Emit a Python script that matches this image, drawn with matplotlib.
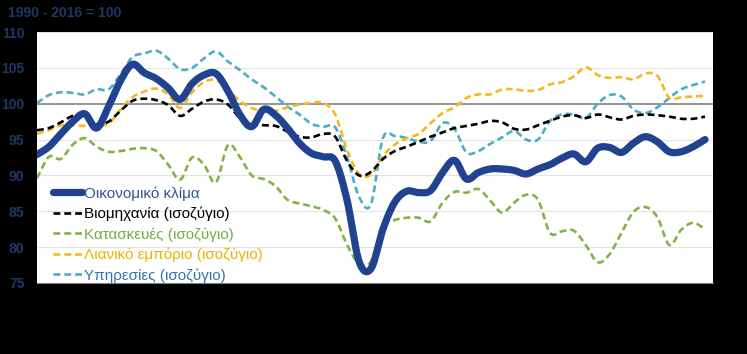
import numpy as np
import matplotlib
matplotlib.use("Agg")
import matplotlib.pyplot as plt

plt.rcParams['font.family'] = ['Liberation Sans', 'DejaVu Sans']

# ---- data (x = period index) ----
climate = [92.9, 94.0, 95.8, 97.5, 98.6, 96.6, 99.6, 103.2, 105.5, 104.3,
           103.5, 102.2, 100.6, 102.8, 104.0, 104.2, 101.8, 98.5, 96.8, 99.2,
           98.4, 96.6, 94.5, 93.1, 92.6, 92.0, 86.5, 78.0, 77.0, 82.5,
           86.3, 87.8, 87.6, 87.9, 90.4, 92.1, 89.5, 90.4, 90.9, 90.9,
           90.7, 90.2, 90.9, 91.5, 92.4, 93.0, 91.9, 93.8, 93.9, 93.2,
           94.5, 95.4, 94.7, 93.3, 93.3, 94.0, 95.0]
industry = [96.3, 96.6, 97.4, 98.3, 98.4, 97.1, 97.5, 99.0, 100.4, 100.7,
            100.5, 99.8, 98.3, 99.3, 100.3, 100.6, 99.9, 98.0, 97.2, 97.0,
            96.9, 96.1, 95.4, 95.3, 95.8, 95.4, 92.0, 90.0, 90.5, 92.3,
            93.4, 94.0, 94.7, 95.4, 96.0, 96.6, 96.9, 97.2, 97.6, 97.4,
            96.5, 96.4, 97.0, 97.6, 98.2, 98.4, 98.0, 98.5, 98.1, 97.8,
            98.3, 98.5, 98.4, 98.2, 97.9, 97.9, 98.2]
construction = [89.6, 92.6, 92.3, 94.3, 95.2, 94.0, 93.3, 93.4, 93.7, 93.8,
                93.4, 91.5, 89.4, 92.5, 91.5, 89.0, 94.2, 92.6, 90.0, 89.5,
                88.5, 86.6, 86.1, 85.7, 85.2, 84.0, 80.3, 77.7, 78.0, 83.0,
                83.8, 84.1, 84.1, 83.6, 86.2, 87.7, 87.6, 88.1, 86.5, 84.8,
                86.2, 87.3, 86.6, 82.0, 82.2, 82.3, 80.3, 77.9, 79.0, 82.0,
                84.9, 85.6, 84.2, 80.3, 82.4, 83.4, 82.5]
retail = [95.8, 96.3, 97.0, 97.0, 96.9, 97.0, 97.2, 99.2, 100.9, 101.7,
          102.1, 101.3, 99.4, 101.6, 103.0, 103.3, 102.0, 100.4, 99.4, 99.0,
          99.0, 99.5, 99.9, 100.1, 100.1, 98.5, 93.5, 90.2, 90.1, 92.7,
          94.3, 95.2, 95.8, 97.3, 98.7, 99.5, 100.8, 101.3, 101.3, 102.0,
          102.0, 101.8, 101.9, 102.7, 103.0, 103.8, 105.1, 104.0, 103.6, 103.7,
          103.4, 104.2, 103.9, 100.8, 100.9, 101.0, 101.1]
services = [100.1, 101.2, 101.6, 101.5, 101.3, 102.0, 102.0, 104.1, 106.5, 107.0,
            107.4, 106.3, 104.8, 105.0, 106.3, 107.3, 105.9, 104.7, 103.4, 102.3,
            101.0, 99.6, 98.5, 97.2, 96.8, 96.7, 92.5, 87.0, 86.0, 95.2,
            95.5, 95.2, 94.7, 94.8, 97.3, 96.5, 93.2, 93.4, 94.4, 95.3,
            96.2, 95.0, 95.0, 97.6, 98.5, 98.5, 98.0, 100.0, 101.2, 101.0,
            99.2, 98.7, 99.5, 100.8, 102.0, 102.6, 103.1]

labels = ["Οικονομικό κλίμα", "Βιομηχανία (ισοζύγιο)", "Κατασκευές (ισοζύγιο)",
          "Λιανικό εμπόριο (ισοζύγιο)", "Υπηρεσίες (ισοζύγιο)"]
title_text = "1990 - 2016 = 100"
yticks = [75, 80, 85, 90, 95, 100, 105, 110]


def smooth(y, n=12):
    """Catmull-Rom smoothing (like Excel's 'smoothed line') in index space."""
    y = np.asarray(y, float)
    yp = np.concatenate([[2 * y[0] - y[1]], y, [2 * y[-1] - y[-2]]])
    xs, ys = [], []
    for i in range(len(y) - 1):
        p0, p1, p2, p3 = yp[i], yp[i + 1], yp[i + 2], yp[i + 3]
        t = np.linspace(0, 1, n, endpoint=False)
        v = 0.5 * ((2 * p1) + (-p0 + p2) * t + (2 * p0 - 5 * p1 + 4 * p2 - p3) * t ** 2
                   + (-p0 + 3 * p1 - 3 * p2 + p3) * t ** 3)
        xs.append(i + t)
        ys.append(v)
    xs.append([len(y) - 1])
    ys.append([y[-1]])
    return np.concatenate(xs), np.concatenate(ys)


fig = plt.figure(figsize=(7.47, 3.54), dpi=100, facecolor='black')
ax = fig.add_axes([0.0495, 0.2006, 0.905, 0.709])
ax.set_facecolor('white')

for yv in yticks:
    if yv == 100:
        ax.axhline(yv, color='#8c8c8c', lw=1.3, zorder=1)
    else:
        ax.axhline(yv, color='#e3e3e3', lw=0.8, zorder=1)

series = [
    (climate, '#21438f', 5.2, None),
    (industry, '#000000', 1.9, (2.6, 1.5)),
    (construction, '#86b144', 1.9, (2.6, 1.5)),
    (retail, '#f5b81e', 1.9, (2.6, 1.5)),
    (services, '#4badc6', 1.9, (2.6, 1.5)),
]
text_colors = ['#2f5597', '#000000', '#70ad47', '#f0b000', '#2e75b6']

order = [4, 3, 2, 1, 0]
lines = {}
for k in order:
    data, col, lw, dash = series[k]
    xs, ys = smooth(data)
    if dash is None:
        ln, = ax.plot(xs, ys, color=col, lw=lw, solid_capstyle='round',
                      solid_joinstyle='round', zorder=5, label=labels[k])
    else:
        ln, = ax.plot(xs, ys, color=col, lw=lw, dashes=dash, zorder=4,
                      label=labels[k])
    lines[k] = ln

n = len(climate)
ax.set_xlim(0, n - 1 + 0.67)
ax.set_ylim(75, 110)
ax.set_yticks(yticks)
ax.set_xticks([])
ax.tick_params(axis='y', length=0, pad=9, labelsize=10, labelcolor='#1f3864')
for t in ax.get_yticklabels():
    t.set_fontweight('bold')
for s in ['top', 'left', 'right']:
    ax.spines[s].set_visible(False)
ax.spines['bottom'].set_color('#7f7f7f')
ax.spines['bottom'].set_linewidth(0.8)

leg = ax.legend([lines[k] for k in range(5)], labels, loc='upper left',
                bbox_to_anchor=(0.014, 0.41), frameon=False, fontsize=11,
                handlelength=1.95, handletextpad=0.12, labelspacing=0.39,
                borderaxespad=0.0)
for txt, c in zip(leg.get_texts(), text_colors):
    txt.set_color(c)

fig.text(8 / 747, 1 - 13 / 354, title_text, color='#1f3864', fontsize=10,
         fontweight='bold', va='center', ha='left')

fig.savefig('out.png', dpi=100, facecolor='black')
